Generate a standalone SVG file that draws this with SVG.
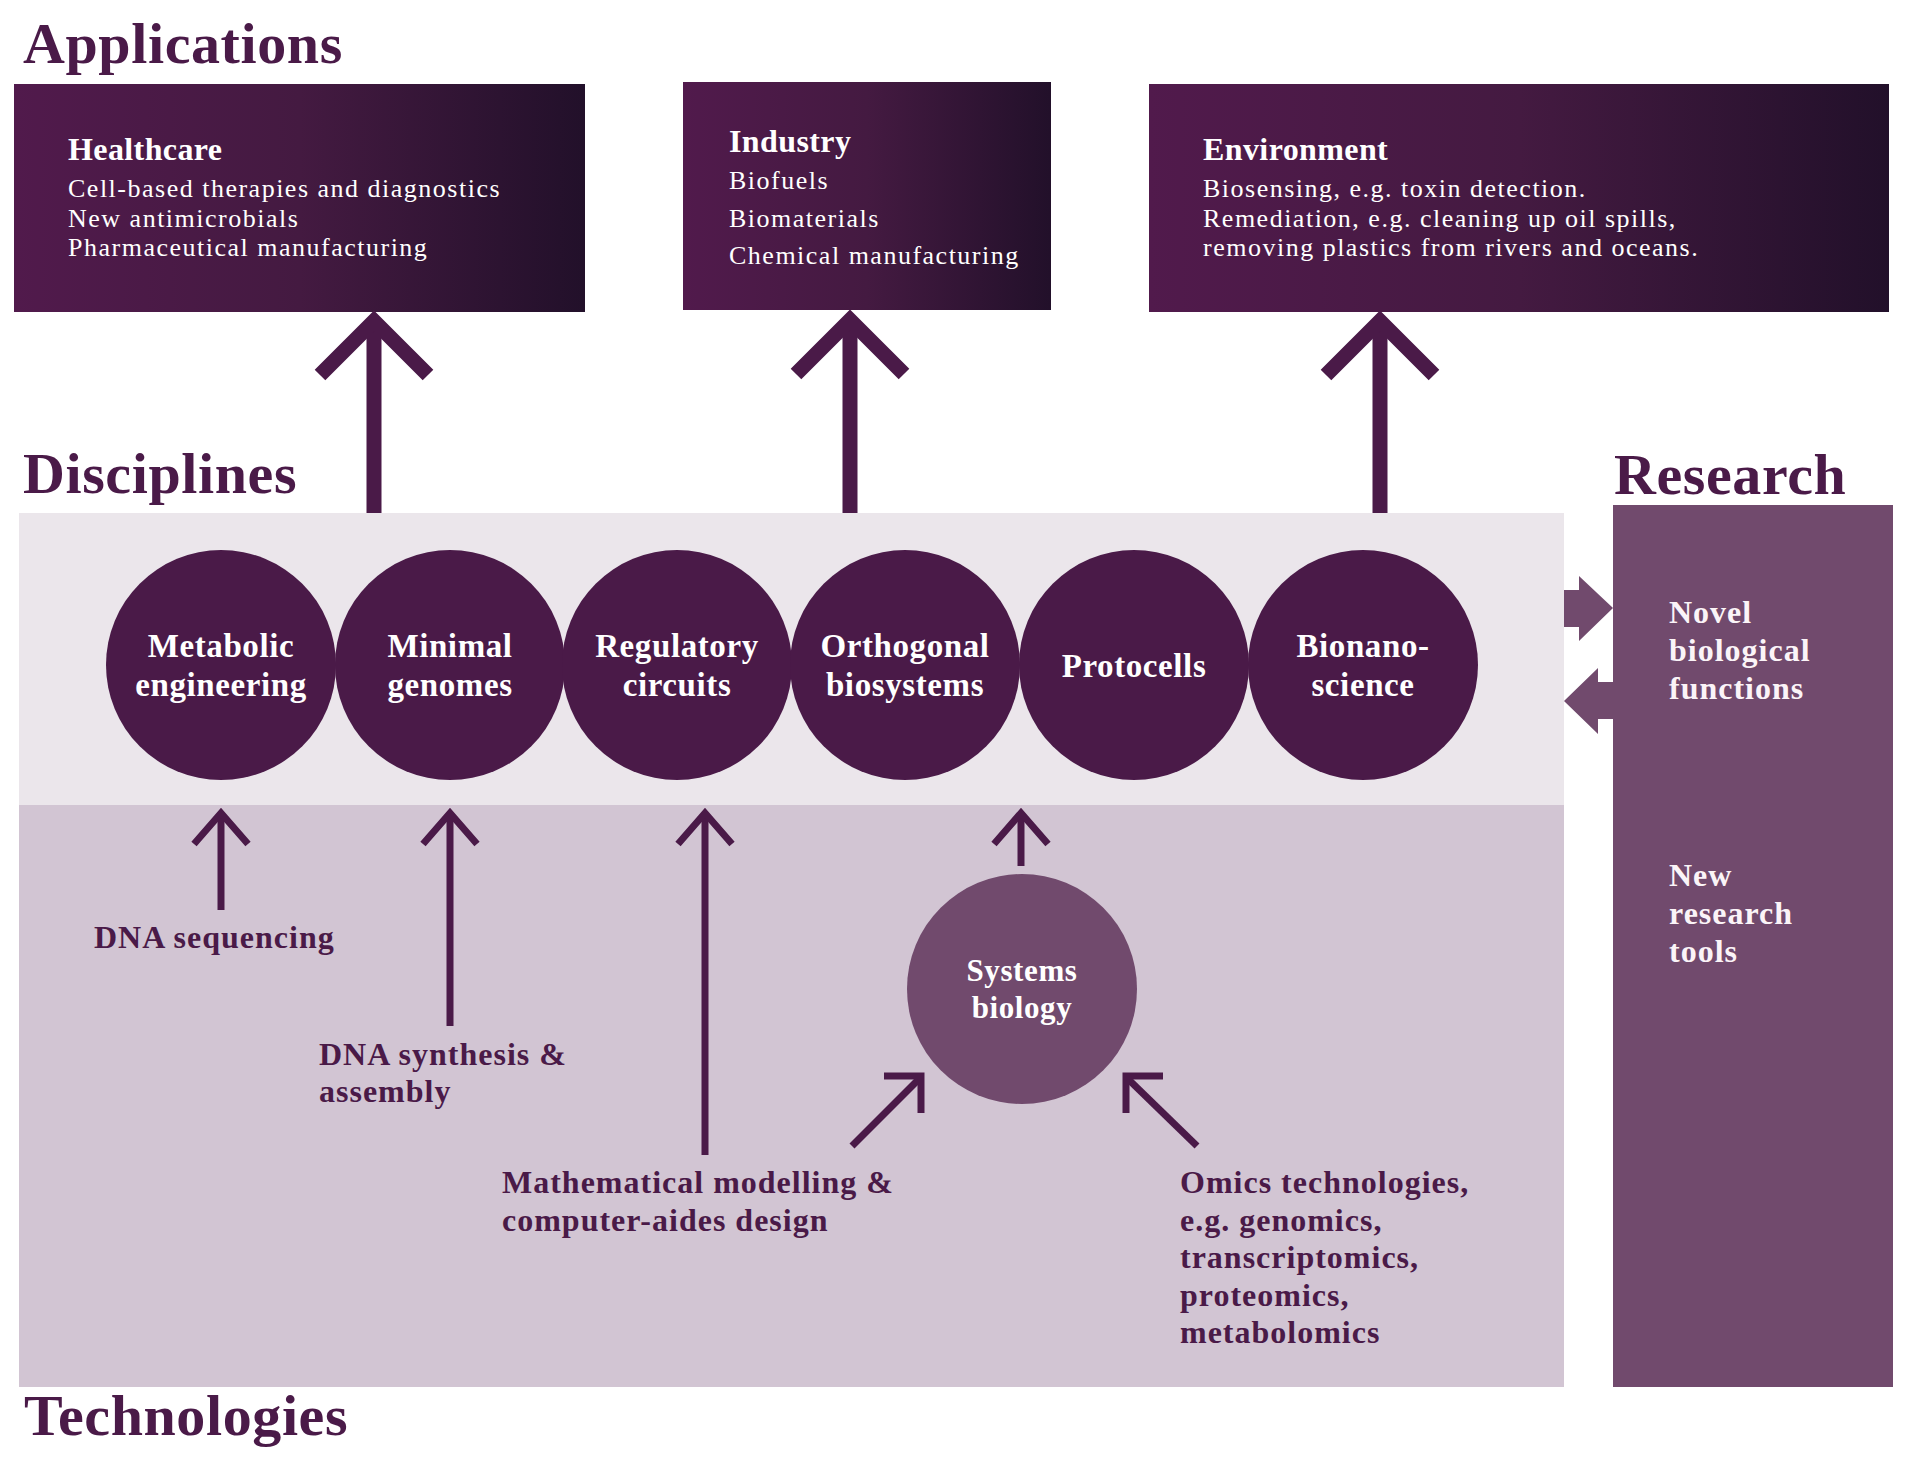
<svg xmlns="http://www.w3.org/2000/svg" width="1912" height="1464" viewBox="0 0 1912 1464">
<defs>
<linearGradient id="boxGrad" x1="0" y1="0" x2="1" y2="0">
<stop offset="0" stop-color="#511a4c"/>
<stop offset="0.5" stop-color="#441a41"/>
<stop offset="1" stop-color="#22102a"/>
</linearGradient>
<style>
.title{font-family:"Liberation Serif",serif;font-weight:bold;font-size:58px;fill:#4a1a48;letter-spacing:0.6px}
.head{font-family:"Liberation Serif",serif;font-weight:bold;font-size:32px;fill:#ffffff;letter-spacing:0.4px}
.body{font-family:"Liberation Serif",serif;font-size:26px;fill:#ffffff;letter-spacing:1.5px}
.disc{fill:#4a1a48}
.disctxt{font-family:"Liberation Serif",serif;font-weight:bold;font-size:33px;fill:#ffffff;text-anchor:middle;letter-spacing:0.6px}
.lbl{font-family:"Liberation Serif",serif;font-weight:bold;font-size:32px;fill:#4a1a48;letter-spacing:1px}
.res{font-family:"Liberation Serif",serif;font-weight:bold;font-size:32px;fill:#fbf4f8;letter-spacing:1px}
.big{fill:none;stroke:#4a1a48;stroke-width:15;stroke-linejoin:miter;stroke-miterlimit:10}
.thin{fill:none;stroke:#4a1a48;stroke-width:7;stroke-linejoin:miter;stroke-miterlimit:10}
.blk{fill:#714a6d}
</style>
</defs>
<rect width="1912" height="1464" fill="#ffffff"/>

<!-- section titles -->
<text class="title" x="23" y="63">Applications</text>
<text class="title" x="23" y="493">Disciplines</text>
<text class="title" x="1614" y="494">Research</text>
<text class="title" x="24" y="1435">Technologies</text>

<!-- bands -->
<rect id="disciplines-band" x="19" y="513" width="1545" height="292" fill="#ebe6eb"/>
<rect id="technologies-band" x="19" y="805" width="1545" height="582" fill="#d2c5d3"/>

<!-- Application boxes -->
<g id="healthcare">
<rect x="14" y="84" width="571" height="228" fill="url(#boxGrad)"/>
<text class="head" x="68" y="160">Healthcare</text>
<text class="body" x="68" y="197">Cell-based therapies and diagnostics</text>
<text class="body" x="68" y="227">New antimicrobials</text>
<text class="body" x="68" y="256">Pharmaceutical manufacturing</text>
</g>
<g id="industry">
<rect x="683" y="82" width="368" height="228" fill="url(#boxGrad)"/>
<text class="head" x="729" y="152">Industry</text>
<text class="body" x="729" y="189">Biofuels</text>
<text class="body" x="729" y="227">Biomaterials</text>
<text class="body" x="729" y="264">Chemical manufacturing</text>
</g>
<g id="environment">
<rect x="1149" y="84" width="740" height="228" fill="url(#boxGrad)"/>
<text class="head" x="1203" y="160">Environment</text>
<text class="body" x="1203" y="197">Biosensing, e.g. toxin detection.</text>
<text class="body" x="1203" y="227">Remediation, e.g. cleaning up oil spills,</text>
<text class="body" x="1203" y="256">removing plastics from rivers and oceans.</text>
</g>

<!-- Research panel -->
<g id="research">
<rect x="1613" y="505" width="280" height="882" fill="#714a6d"/>
<text class="res" x="1669" y="623">Novel</text>
<text class="res" x="1669" y="661">biological</text>
<text class="res" x="1669" y="699">functions</text>
<text class="res" x="1669" y="886">New</text>
<text class="res" x="1669" y="924">research</text>
<text class="res" x="1669" y="962">tools</text>
</g>

<!-- Discipline circles -->
<g id="metabolic-engineering">
<circle class="disc" cx="221" cy="665" r="115"/>
<text class="disctxt" x="221" y="657">Metabolic</text>
<text class="disctxt" x="221" y="696">engineering</text>
</g>
<g id="minimal-genomes">
<circle class="disc" cx="450" cy="665" r="115"/>
<text class="disctxt" x="450" y="657">Minimal</text>
<text class="disctxt" x="450" y="696">genomes</text>
</g>
<g id="regulatory-circuits">
<circle class="disc" cx="677" cy="665" r="115"/>
<text class="disctxt" x="677" y="657">Regulatory</text>
<text class="disctxt" x="677" y="696">circuits</text>
</g>
<g id="orthogonal-biosystems">
<circle class="disc" cx="905" cy="665" r="115"/>
<text class="disctxt" x="905" y="657">Orthogonal</text>
<text class="disctxt" x="905" y="696">biosystems</text>
</g>
<g id="protocells">
<circle class="disc" cx="1134" cy="665" r="115"/>
<text class="disctxt" x="1134" y="677">Protocells</text>
</g>
<g id="bionanoscience">
<circle class="disc" cx="1363" cy="665" r="115"/>
<text class="disctxt" x="1363" y="657">Bionano-</text>
<text class="disctxt" x="1363" y="696">science</text>
</g>

<!-- Systems biology -->
<g id="systems-biology">
<circle cx="1022" cy="989" r="115" fill="#714a6d"/>
<text class="disctxt" x="1022" y="981" style="font-size:31px">Systems</text>
<text class="disctxt" x="1022" y="1018" style="font-size:31px">biology</text>
</g>

<!-- Technology labels -->
<g id="dna-sequencing"><text class="lbl" x="94" y="948">DNA sequencing</text></g>
<g id="dna-synthesis"><text class="lbl" x="319" y="1065">DNA synthesis &amp;</text><text class="lbl" x="319" y="1102">assembly</text></g>
<g id="math-modelling"><text class="lbl" x="502" y="1193">Mathematical modelling &amp;</text><text class="lbl" x="502" y="1231">computer-aides design</text></g>
<g id="omics"><text class="lbl" x="1180" y="1193">Omics technologies,</text><text class="lbl" x="1180" y="1231">e.g. genomics,</text><text class="lbl" x="1180" y="1268">transcriptomics,</text><text class="lbl" x="1180" y="1306">proteomics,</text><text class="lbl" x="1180" y="1343">metabolomics</text></g>

<!-- Connectors -->
<g id="connectors">
<line class="big" x1="374" y1="513" x2="374" y2="323"/>
<polyline class="big" points="320,375 374,321 428,375"/>
<line class="big" x1="850" y1="513" x2="850" y2="321"/>
<polyline class="big" points="796,374 850,320 904,374"/>
<line class="big" x1="1380" y1="513" x2="1380" y2="323"/>
<polyline class="big" points="1326,375 1380,321 1434,375"/>

<line class="thin" x1="221" y1="910" x2="221" y2="814"/>
<polyline class="thin" points="194,844 221,813 248,844"/>
<line class="thin" x1="450" y1="1026" x2="450" y2="814"/>
<polyline class="thin" points="423,844 450,813 477,844"/>
<line class="thin" x1="705" y1="1155" x2="705" y2="814"/>
<polyline class="thin" points="678,844 705,813 732,844"/>
<line class="thin" x1="1021" y1="866" x2="1021" y2="814"/>
<polyline class="thin" points="994,844 1021,813 1048,844"/>

<line class="thin" x1="852" y1="1146" x2="920" y2="1078"/>
<polyline class="thin" points="884,1076 921,1076 921,1113"/>
<line class="thin" x1="1197" y1="1146" x2="1127" y2="1078"/>
<polyline class="thin" points="1163,1076 1126,1076 1126,1113"/>

<polygon class="blk" points="1564,590 1579,590 1579,576 1613,608 1579,641 1579,627 1564,627"/>
<polygon class="blk" points="1564,701 1598,668 1598,682 1613,682 1613,719 1598,719 1598,734"/>
</g>
</svg>
